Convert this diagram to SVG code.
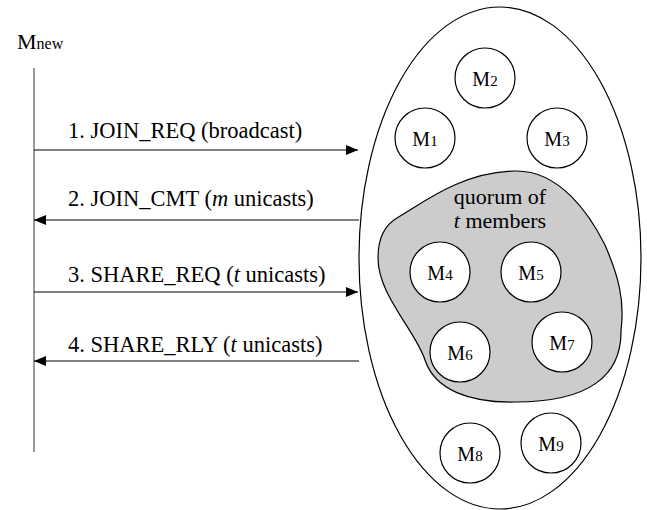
<svg xmlns="http://www.w3.org/2000/svg" width="647" height="510" viewBox="0 0 647 510">
<defs>
<marker id="ah" viewBox="0 0 12 10" refX="12" refY="5" markerWidth="12" markerHeight="10" markerUnits="userSpaceOnUse" orient="auto">
<path d="M0,0 L12,5 L0,10 Z" fill="#000"/>
</marker>
</defs>
<rect width="647" height="510" fill="#fff"/>
<g id="mnew">
<text x="17" y="49" font-family="Liberation Serif"><tspan font-size="22">M</tspan><tspan font-size="16">new</tspan></text>
<line x1="34" y1="68" x2="34" y2="452" stroke="#555" stroke-width="1.2"/>
</g>
<g id="group">
<ellipse cx="500" cy="258" rx="141" ry="251" fill="#fff" stroke="#000" stroke-width="1.2"/>
</g>
<g id="quorum">
<path d="M397,218 C420,205 460,172 515,171 C560,170 590,215 605,245 C618,275 625,300 621,330 C622,375 590,402 515,402 C470,403 435,390 425,360 C415,330 378,295 378,258 C378,238 385,225 397,218 Z" fill="#cccccc" stroke="#000" stroke-width="1.2"/>
<text x="500" y="204" text-anchor="middle" font-family="Liberation Serif" font-size="22">quorum of</text>
<text x="500" y="228" text-anchor="middle" font-family="Liberation Serif" font-size="22"><tspan font-style="italic">t</tspan> members</text>
</g>
<g fill="#fff" stroke="#000" stroke-width="1.2">
<g id="M1"><circle cx="425" cy="138" r="30"/><text x="425" y="146" text-anchor="middle" font-family="Liberation Serif" fill="#000" stroke="none"><tspan font-size="20">M</tspan><tspan font-size="15">1</tspan></text></g>
<g id="M2"><circle cx="485" cy="78" r="30"/><text x="485" y="86" text-anchor="middle" font-family="Liberation Serif" fill="#000" stroke="none"><tspan font-size="20">M</tspan><tspan font-size="15">2</tspan></text></g>
<g id="M3"><circle cx="557" cy="138" r="30"/><text x="557" y="146" text-anchor="middle" font-family="Liberation Serif" fill="#000" stroke="none"><tspan font-size="20">M</tspan><tspan font-size="15">3</tspan></text></g>
<g id="M4"><circle cx="440" cy="272" r="30"/><text x="440" y="280" text-anchor="middle" font-family="Liberation Serif" fill="#000" stroke="none"><tspan font-size="20">M</tspan><tspan font-size="15">4</tspan></text></g>
<g id="M5"><circle cx="531" cy="272" r="30"/><text x="531" y="280" text-anchor="middle" font-family="Liberation Serif" fill="#000" stroke="none"><tspan font-size="20">M</tspan><tspan font-size="15">5</tspan></text></g>
<g id="M6"><circle cx="460" cy="352" r="30"/><text x="460" y="360" text-anchor="middle" font-family="Liberation Serif" fill="#000" stroke="none"><tspan font-size="20">M</tspan><tspan font-size="15">6</tspan></text></g>
<g id="M7"><circle cx="562" cy="342" r="30"/><text x="562" y="350" text-anchor="middle" font-family="Liberation Serif" fill="#000" stroke="none"><tspan font-size="20">M</tspan><tspan font-size="15">7</tspan></text></g>
<g id="M8"><circle cx="470" cy="453" r="30"/><text x="470" y="461" text-anchor="middle" font-family="Liberation Serif" fill="#000" stroke="none"><tspan font-size="20">M</tspan><tspan font-size="15">8</tspan></text></g>
<g id="M9"><circle cx="551" cy="443" r="30"/><text x="551" y="451" text-anchor="middle" font-family="Liberation Serif" fill="#000" stroke="none"><tspan font-size="20">M</tspan><tspan font-size="15">9</tspan></text></g>
</g>
<g id="connectors" stroke="#000" stroke-width="1.2">
<line x1="34" y1="150" x2="358" y2="150" marker-end="url(#ah)"/>
<line x1="359" y1="220" x2="34" y2="220" marker-end="url(#ah)"/>
<line x1="34" y1="292" x2="358" y2="292" marker-end="url(#ah)"/>
<line x1="359" y1="361" x2="34" y2="361" marker-end="url(#ah)"/>
</g>
<g id="labels">
<text x="68" y="138" font-family="Liberation Serif" font-size="22.5">1. JOIN_REQ (broadcast)</text>
<text x="68" y="206" font-family="Liberation Serif" font-size="22.5">2. JOIN_CMT (<tspan font-style="italic">m</tspan> unicasts)</text>
<text x="68" y="282" font-family="Liberation Serif" font-size="22.5">3. SHARE_REQ (<tspan font-style="italic">t</tspan> unicasts)</text>
<text x="68" y="352" font-family="Liberation Serif" font-size="22.5">4. SHARE_RLY (<tspan font-style="italic">t</tspan> unicasts)</text>
</g>
</svg>
